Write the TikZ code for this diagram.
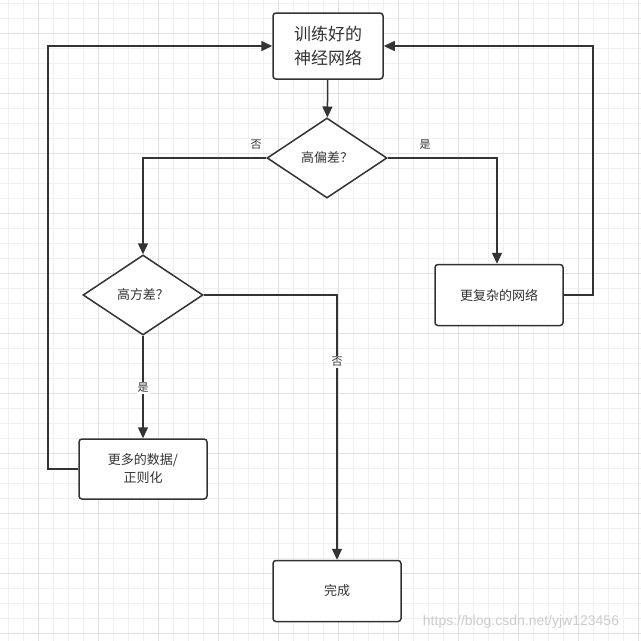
\documentclass[tikz,border=0pt]{standalone}
\usepackage{fontspec}
\setmainfont{Noto Sans CJK SC}
\usetikzlibrary{arrows.meta,shapes.geometric}
\definecolor{ln}{HTML}{333333}
\definecolor{gmin}{HTML}{F0F0F0}
\definecolor{gmaj}{HTML}{E0E0E0}
\begin{document}
\begin{tikzpicture}[x=1pt,y=-1pt,
 box/.style={draw=ln,line width=1.5pt,rounded corners=3pt,fill=white,text=ln,align=center,font=\fontsize{13}{18}\selectfont},
 dia/.style={draw=ln,line width=1.5pt,diamond,fill=white,text=ln,minimum width=120pt,minimum height=80pt,inner sep=0pt,font=\fontsize{13}{16}\selectfont},
 con/.style={draw=ln,line width=1.5pt,-{Triangle[length=11pt,width=10pt]}},
 lab/.style={fill=white,text=ln,inner sep=1pt,font=\fontsize{11}{13}\selectfont}]
\useasboundingbox (0,0) rectangle (641,641);
\fill[white] (0,0) rectangle (641,641);
\foreach \i in {0,...,42}{
 \draw[gmin,line width=0.7pt] ({8+15*\i},0) -- ({8+15*\i},641);
 \draw[gmin,line width=0.7pt] (0,{3+15*\i}) -- (641,{3+15*\i});}
\foreach \i in {0,...,10}{
 \draw[gmaj,line width=0.8pt] ({38+60*\i},0) -- ({38+60*\i},641);
 \draw[gmaj,line width=0.8pt] (0,{33+60*\i}) -- (641,{33+60*\i});}
\node[box,minimum width=110pt,minimum height=66pt,font=\fontsize{17}{24}\selectfont] (top) at (328,46) {训练好的\\神经网络};
\node[dia] (d1) at (327,158) {高偏差？};
\node[box,minimum width=128pt,minimum height=61pt] (r) at (499,295) {更复杂的网络};
\node[dia] (d2) at (143,295) {高方差？};
\node[box,minimum width=128pt,minimum height=60pt] (l) at (143,469) {更多的数据/\\正则化};
\node[box,minimum width=128pt,minimum height=61pt] (done) at (337,591) {完成};
\coordinate (c1) at (143,158);
\coordinate (c2) at (497,158);
\coordinate (c3) at (593,295);
\coordinate (c4) at (593,46);
\coordinate (c5) at (337,295);
\coordinate (c6) at (48,469);
\coordinate (c7) at (48,46);
\draw[con] (top) -- (d1);
\draw[con] (d1.west) -- (c1) -- (d2.north);
\draw[con] (d1.east) -- (c2) -- (r.north -| c2);
\draw[con] (r.east) -- (c3) -- (c4) -- (top.east);
\draw[con] (d2) -- (l);
\draw[con] (d2.east) -- (c5) -- (done.north -| c5);
\draw[con] (l.west) -- (c6) -- (c7) -- (top.west);
\node[lab] (n1) at (256,145) {否};
\node[lab] (y1) at (425,145) {是};
\node[lab] (y2) at (143,388) {是};
\node[lab] (n2) at (337,362) {否};
\node[text=gray!40,font=\fontsize{14}{16}\selectfont\fontspec{Liberation Sans}] (wm) at (521,622) {https://blog.csdn.net/yjw123456};
\end{tikzpicture}
\end{document}
